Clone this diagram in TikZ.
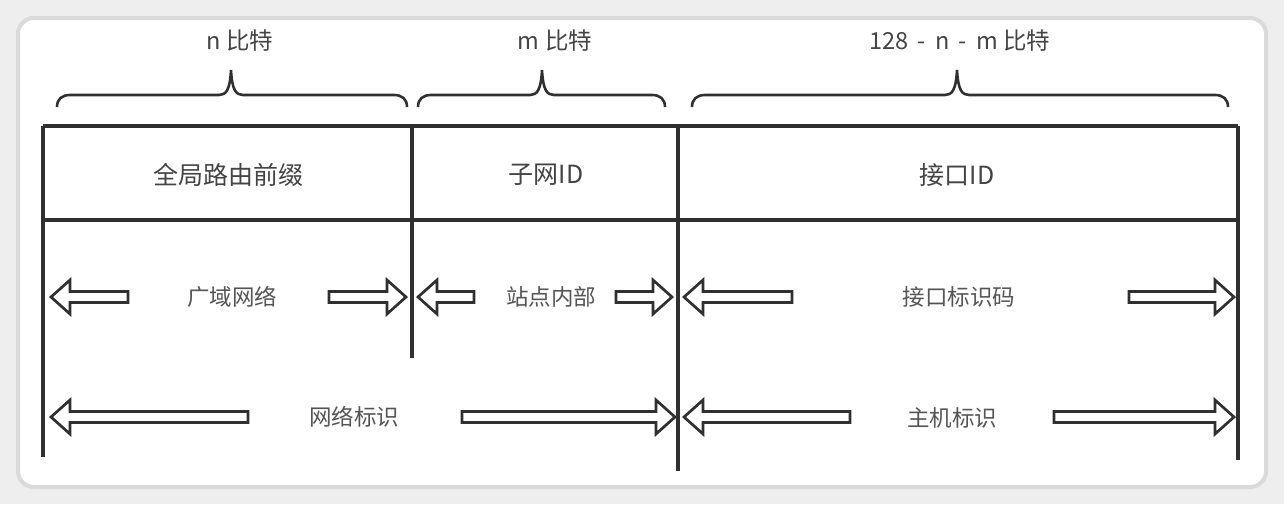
\documentclass[tikz,border=0pt]{standalone}
\usepackage{fontspec}
\setmainfont{Noto Sans CJK SC}
\definecolor{linec}{HTML}{303030}
\definecolor{txtc}{HTML}{444444}
\definecolor{lblc}{HTML}{555555}
\definecolor{bgc}{HTML}{EEEEEE}
\definecolor{edgec}{HTML}{DADADA}
\tikzset{
  tbl/.style={draw=linec, line width=3.1pt},
  brc/.style={draw=linec, line width=2.6pt},
  barrow/.style={draw=linec, fill=white, line width=2.7pt, line join=miter},
  toplab/.style={text=txtc, font=\fontsize{23.5pt}{28pt}\selectfont, inner sep=0pt},
  hdr/.style={text=txtc, font=\fontsize{25pt}{30pt}\selectfont, inner sep=0pt},
  alab/.style={text=lblc, font=\fontsize{22.5pt}{27pt}\selectfont, inner sep=0pt},
}
\newcommand\blockarrow[3]{%
  \pgfmathsetmacro\hb{#1-19*sign(#1-#2)}%
  \draw[barrow] (#2,#3-5.5) -- (\hb,#3-5.5) -- (\hb,#3-17) -- (#1,#3) -- (\hb,#3+17) -- (\hb,#3+5.5) -- (#2,#3+5.5) -- cycle;}
\newcommand\topbrace[3]{%
  \draw[brc] (#1,107) .. controls (#1,99) and (#1+5,95) .. (#1+13,95) -- (#2-12,95)
    .. controls (#2-5,95) and (#2-1,90) .. (#2,70)
    .. controls (#2+1,90) and (#2+5,95) .. (#2+12,95) -- (#3-13,95)
    .. controls (#3-5,95) and (#3,99) .. (#3,107);}
\begin{document}
\begin{tikzpicture}[x=1pt,y=-1pt]
\useasboundingbox (0,0) rectangle (1284,504);
\fill[bgc] (0,0) rectangle (1284,504);
\draw[draw=edgec, line width=4pt, fill=white, rounded corners=16pt] (18,18) rectangle (1266,487);
% braces
\topbrace{57}{231}{407}
\topbrace{418}{542}{665}
\topbrace{692}{957}{1228}
\node[toplab] (nb) at (240,41) {n 比特};
\node[toplab] (mb) at (555,41) {m 比特};
\node[toplab] (rb) at (960,41) {128\hspace{4pt} - \hspace{4pt}n\hspace{4pt} - \hspace{4pt}m 比特};
% table
\coordinate (tl) at (43,126);
\coordinate (tr) at (1238,126);
\coordinate (ml) at (43,220);
\coordinate (mr) at (1238,220);
\coordinate (bl) at (43,457);
\coordinate (br) at (1238,460);
\coordinate (d1t) at (412,126);
\coordinate (d1b) at (412,358);
\coordinate (d2t) at (678,126);
\coordinate (d2b) at (678,471);
\draw[tbl] (tl) -- (tr);
\draw[tbl] (ml) -- (mr);
\draw[tbl] (tl) -- (bl);
\draw[tbl] (tr) -- (br);
\draw[tbl] (d1t) -- (d1b);
\draw[tbl] (d2t) -- (d2b);
\node[hdr] (h1) at (228,175) {全局路由前缀};
\node[hdr] (h2) at (546,175) {子网ID};
\node[hdr] (h3) at (957,175) {接口ID};
% row 1 arrows
\blockarrow{51}{128}{297}
\blockarrow{406}{329}{297}
\blockarrow{418}{474}{297}
\blockarrow{672}{616}{297}
\blockarrow{684}{792}{297}
\blockarrow{1234}{1129}{297}
\node[alab] (a1) at (232,297) {广域网络};
\node[alab] (a2) at (551,297) {站点内部};
\node[alab] (a3) at (959,297) {接口标识码};
% row 2 arrows
\blockarrow{51}{248}{417}
\blockarrow{675}{462}{417}
\blockarrow{684}{850}{417}
\blockarrow{1234}{1054}{417}
\node[alab] (b1) at (354,417) {网络标识};
\node[alab] (b2) at (952,418) {主机标识};
\end{tikzpicture}
\end{document}
